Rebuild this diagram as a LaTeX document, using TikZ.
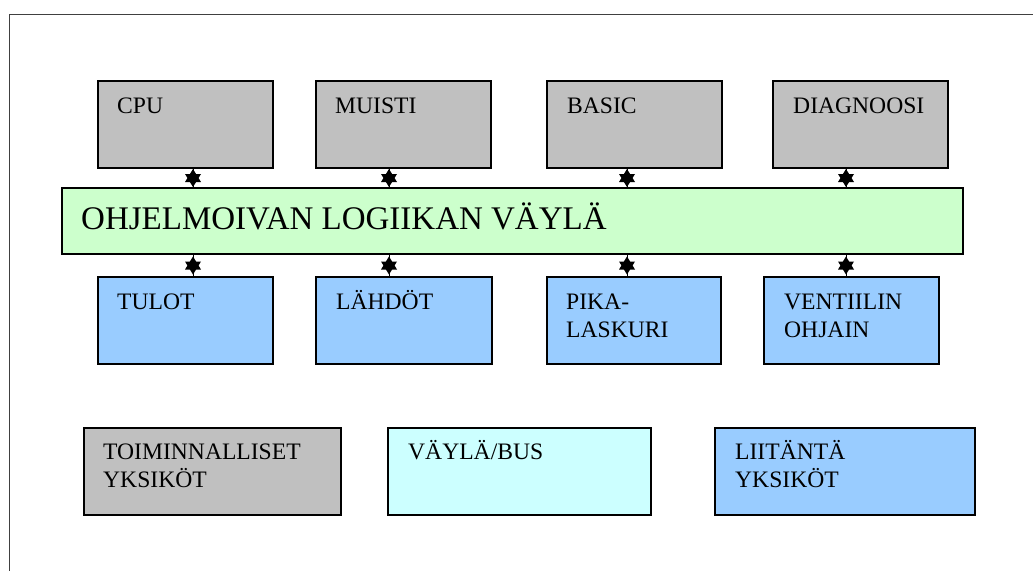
\documentclass[tikz,border=0pt]{standalone}
\usepackage{fontspec}
\setmainfont{Liberation Serif}
\usetikzlibrary{calc}
\definecolor{unitgray}{RGB}{192,192,192}
\definecolor{busgreen}{RGB}{204,255,204}
\definecolor{iface}{RGB}{153,204,255}
\definecolor{buscyan}{RGB}{204,255,255}
\begin{document}
\begin{tikzpicture}[x=1pt,y=-1pt,
  box/.style={draw=black,line width=1.3pt,rectangle,inner sep=0pt,outer sep=0pt,
    minimum height=87pt,minimum width=175pt},
  func/.style={box,fill=unitgray},
  io/.style={box,fill=iface},
  lbl/.style={anchor=base west,inner sep=0pt,align=left,
    font=\fontsize{23.6}{28.5}\selectfont},
  link/.style={line width=0.6pt},
  hexa/.pic={
    \fill[black] (0,-9) -- (8,4) -- (-8,4) -- cycle;
    \fill[black] (0,9) -- (8,-4) -- (-8,-4) -- cycle;
  }]
\useasboundingbox (0,0) rectangle (1033,571);
% outer frame, open at right and bottom
\draw[line width=1pt,black!75] (1033,14) -- (9,14) -- (9,571);

% functional units
\node[func] (cpu)  at (185.5,124.5) {};
\node[func] (mem)  at (403.5,124.5) {};
\node[func] (bas)  at (634.5,124.5) {};
\node[func] (diag) at (860.5,124.5) {};

% the bus
\node[box,fill=busgreen,minimum width=901pt,minimum height=66pt] (bus) at (512.5,221) {};

% interface units
\node[io] (inp)  at (185.5,320.5) {};
\node[io,minimum width=176pt] (outp) at (404,320.5) {};
\node[io,minimum width=174pt] (cnt)  at (634,320.5) {};
\node[io] (vlv)  at (851.5,320.5) {};

% legend
\node[func,minimum width=257pt] (lgf) at (212.5,471.5) {};
\node[box,fill=buscyan,minimum width=263pt] (lgb) at (519.5,471.5) {};
\node[io,minimum width=260pt] (lgi) at (845,471.5) {};

% texts (base anchor of a two-line node sits on its last line)
\node[lbl] (tcpu)  at ([shift={(19,32)}]cpu.north west) {CPU};
\node[lbl] (tmem)  at ([shift={(19,32)}]mem.north west) {MUISTI};
\node[lbl] (tbas)  at ([shift={(20,32)}]bas.north west) {BASIC};
\node[lbl] (tdiag) at ([shift={(20,32)}]diag.north west) {DIAGNOOSI};
\node[lbl,font=\fontsize{33}{40}\selectfont] (tbus) at ([shift={(19,41)}]bus.north west)
  {OHJELMOIVAN LOGIIKAN VÄYLÄ};
\node[lbl] (tinp)  at ([shift={(19,32)}]inp.north west) {TULOT};
\node[lbl] (toutp) at ([shift={(20,32)}]outp.north west) {LÄHDÖT};
\node[lbl] (tcnt)  at ([shift={(19,60.5)}]cnt.north west) {PIKA-\\LASKURI};
\node[lbl] (tvlv)  at ([shift={(20,60.5)}]vlv.north west) {VENTIILIN\\OHJAIN};
\node[lbl] (tlgf)  at ([shift={(19,59.5)}]lgf.north west) {TOIMINNALLISET\\YKSIKÖT};
\node[lbl] (tlgb)  at ([shift={(20,31)}]lgb.north west) {VÄYLÄ/BUS};
\node[lbl] (tlgi)  at ([shift={(20,59.5)}]lgi.north west) {LIITÄNTÄ\\YKSIKÖT};

% bus taps: short two-way links drawn as a six-pointed mark
\coordinate (x1) at (193,0);
\coordinate (x2) at (389,0);
\coordinate (x3) at (627,0);
\coordinate (x4) at (846,0);
\foreach \u/\x in {cpu/x1,mem/x2,bas/x3,diag/x4}{
  \draw[link] (\u.south -| \x) -- (bus.north -| \x);
  \pic at ($(\u.south -| \x)!0.5!(bus.north -| \x)$) {hexa};
}
\foreach \u/\x in {inp/x1,outp/x2,cnt/x3,vlv/x4}{
  \draw[link] (bus.south -| \x) -- (\u.north -| \x);
  \pic at ($(bus.south -| \x)!0.5!(\u.north -| \x)$) {hexa};
}
\end{tikzpicture}
\end{document}
